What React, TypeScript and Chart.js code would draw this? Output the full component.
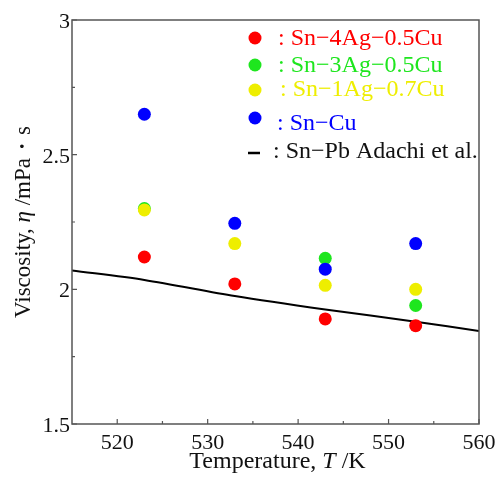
import React, { useEffect, useRef } from "react";
import { Chart, registerables } from "chart.js";

Chart.register(...registerables);

// ---- data ----
const TEMPERATURES = [523, 533, 543, 553];
const SN4AG05CU = [2.12, 2.02, 1.89, 1.865];
const SN3AG05CU_TEMPS = [523, 543, 553];
const SN3AG05CU = [2.3, 2.115, 1.94];
const SN1AG07CU = [2.295, 2.17, 2.015, 2.0];
const SNCU = [2.65, 2.245, 2.075, 2.17];
const ADACHI_TEMPS = [515, 523, 533, 543, 553, 560];
const ADACHI = [2.07, 2.035, 1.975, 1.925, 1.88, 1.845];

const X_TICKS = [520, 530, 540, 550, 560];
const X_MINOR = [525, 535, 545, 555];
const Y_TICKS = [1.5, 2, 2.5, 3];
const Y_MINOR = [1.75, 2.25, 2.75];

const LEGEND_LABELS = [
  ": Sn\u22124Ag\u22120.5Cu",
  ": Sn\u22123Ag\u22120.5Cu",
  ": Sn\u22121Ag\u22120.7Cu",
  ": Sn\u2212Cu",
  ": Sn\u2212Pb Adachi et al.",
];

const RED = "#ff0000";
const GREEN = "#1ee61e";
const YELLOW = "#eeee00";
const BLUE = "#0000ff";
const SERIF = "'Liberation Serif', serif";

Chart.defaults.font.family = SERIF;

function pts(xs: number[], ys: number[]) {
  return xs.map((x, i) => ({ x, y: ys[i] }));
}

function drawRich(
  ctx: CanvasRenderingContext2D,
  parts: [string, boolean][],
  x: number,
  y: number,
  size: number
) {
  const fontFor = (it: boolean) => `${it ? "italic " : ""}${size}px ${SERIF}`;
  let total = 0;
  for (const [t, it] of parts) {
    ctx.font = fontFor(it);
    total += ctx.measureText(t).width;
  }
  let cx = x - total / 2;
  ctx.textAlign = "left";
  for (const [t, it] of parts) {
    ctx.font = fontFor(it);
    ctx.fillText(t, cx, y);
    cx += ctx.measureText(t).width;
  }
}

const decorPlugin = {
  id: "decor",
  afterDraw(chart: any) {
    const ctx: CanvasRenderingContext2D = chart.ctx;
    const { left, right, top, bottom } = chart.chartArea;
    const xs = chart.scales.x;
    const ys = chart.scales.y;
    ctx.save();
    // frame
    ctx.strokeStyle = "#555555";
    ctx.lineWidth = 1.5;
    ctx.strokeRect(left, top, right - left, bottom - top);
    // ticks (inward)
    ctx.lineWidth = 1.2;
    ctx.beginPath();
    for (const v of X_TICKS) {
      const px = xs.getPixelForValue(v);
      ctx.moveTo(px, bottom);
      ctx.lineTo(px, bottom - 5);
    }
    for (const v of X_MINOR) {
      const px = xs.getPixelForValue(v);
      ctx.moveTo(px, bottom);
      ctx.lineTo(px, bottom - 3);
    }
    for (const v of Y_TICKS) {
      const py = ys.getPixelForValue(v);
      ctx.moveTo(left, py);
      ctx.lineTo(left + 5, py);
    }
    for (const v of Y_MINOR) {
      const py = ys.getPixelForValue(v);
      ctx.moveTo(left, py);
      ctx.lineTo(left + 3, py);
    }
    ctx.stroke();

    // tick labels
    ctx.fillStyle = "#111111";
    ctx.font = `22px ${SERIF}`;
    ctx.textAlign = "center";
    ctx.textBaseline = "alphabetic";
    for (const v of X_TICKS) {
      ctx.fillText(String(v), xs.getPixelForValue(v), 449);
    }
    ctx.textAlign = "right";
    for (const v of Y_TICKS) {
      ctx.fillText(String(v), left - 2, ys.getPixelForValue(v) + 8);
    }

    // axis titles
    ctx.textBaseline = "alphabetic";
    drawRich(
      ctx,
      [
        ["Temperature, ", false],
        ["T", true],
        [" /K", false],
      ],
      (left + right) / 2 + 2,
      468,
      24
    );
    ctx.save();
    ctx.translate(24, (top + bottom) / 2);
    ctx.rotate(-Math.PI / 2);
    ctx.textBaseline = "middle";
    drawRich(
      ctx,
      [
        ["Viscosity, ", false],
        ["\u03b7", true],
        [" /mPa\u30fbs", false],
      ],
      0,
      0,
      23
    );
    ctx.restore();

    // legend
    const rows = [
      { color: RED, dotY: 38, textX: 278, base: 45 },
      { color: GREEN, dotY: 65, textX: 278, base: 72 },
      { color: YELLOW, dotY: 90, textX: 280, base: 96 },
      { color: BLUE, dotY: 118, textX: 277, base: 130 },
    ];
    ctx.font = `24px ${SERIF}`;
    ctx.textAlign = "left";
    ctx.textBaseline = "alphabetic";
    rows.forEach((r, i) => {
      ctx.fillStyle = r.color;
      ctx.beginPath();
      ctx.arc(255, r.dotY, 6.5, 0, Math.PI * 2);
      ctx.fill();
      ctx.fillText(LEGEND_LABELS[i], r.textX, r.base);
    });
    ctx.strokeStyle = "#000000";
    ctx.lineWidth = 2.5;
    ctx.beginPath();
    ctx.moveTo(248, 153);
    ctx.lineTo(260, 153);
    ctx.stroke();
    ctx.fillStyle = "#111111";
    ctx.fillText(LEGEND_LABELS[4], 273, 158);
    ctx.restore();
  },
};

export default function App() {
  const ref = useRef<HTMLCanvasElement | null>(null);
  useEffect(() => {
    if (!ref.current) return;
    const dot = (label: string, data: any[], color: string, order: number) => ({
      type: "scatter" as const,
      label,
      data,
      backgroundColor: color,
      borderColor: color,
      borderWidth: 0,
      pointRadius: 6.5,
      pointHoverRadius: 6.5,
      order,
    });
    const chart = new Chart(ref.current, {
      type: "scatter",
      data: {
        datasets: [
          {
            type: "line",
            label: "Sn-Pb Adachi et al.",
            data: pts(ADACHI_TEMPS, ADACHI),
            borderColor: "#000000",
            borderWidth: 2,
            pointRadius: 0,
            fill: false,
            tension: 0.3,
            order: 5,
          } as any,
          dot("Sn-4Ag-0.5Cu", pts(TEMPERATURES, SN4AG05CU), RED, 4),
          dot("Sn-3Ag-0.5Cu", pts(SN3AG05CU_TEMPS, SN3AG05CU), GREEN, 3),
          dot("Sn-1Ag-0.7Cu", pts(TEMPERATURES, SN1AG07CU), YELLOW, 2),
          dot("Sn-Cu", pts(TEMPERATURES, SNCU), BLUE, 1),
        ],
      },
      options: {
        responsive: false,
        animation: false,
        layout: { padding: { top: 20, right: 18, left: 0, bottom: 0 } },
        plugins: {
          legend: { display: false },
          tooltip: { enabled: false },
          title: { display: false },
        },
        scales: {
          x: {
            type: "linear",
            min: 515,
            max: 560,
            grid: { display: false, drawTicks: false },
            border: { display: false },
            afterBuildTicks: (s: any) => {
              s.ticks = X_TICKS.map((v) => ({ value: v }));
            },
            afterFit: (s: any) => {
              s.height = 58;
            },
            ticks: { display: false },
          },
          y: {
            type: "linear",
            min: 1.5,
            max: 3,
            grid: { display: false, drawTicks: false },
            border: { display: false },
            afterBuildTicks: (s: any) => {
              s.ticks = Y_TICKS.map((v) => ({ value: v }));
            },
            afterFit: (s: any) => {
              s.width = 72;
            },
            ticks: { display: false },
          },
        },
      },
      plugins: [decorPlugin],
    });
    return () => chart.destroy();
  }, []);
  return (
    <div style={{ position: "absolute", left: 0, top: 0, width: 497, height: 482, background: "#fff" }}>
      <canvas ref={ref} width={497} height={482} />
    </div>
  );
}
